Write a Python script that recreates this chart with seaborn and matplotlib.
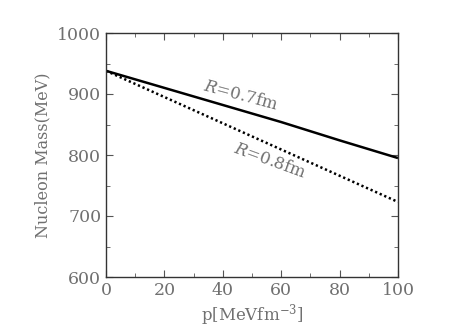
import numpy as np
import pandas as pd
import matplotlib
matplotlib.use("Agg")
import matplotlib.pyplot as plt
import seaborn as sns

# Data
pressure = [0, 20, 40, 60, 80, 100]
mass_r07 = [938, 910, 882, 854, 824, 795]
mass_r08 = [938, 895, 852, 809, 766, 723]

df = pd.DataFrame({
    "p": pressure * 2,
    "mass": mass_r07 + mass_r08,
    "R": ["R=0.7fm"] * len(pressure) + ["R=0.8fm"] * len(pressure),
})

sns.set_style("ticks")
plt.rcParams["font.family"] = ["DejaVu Serif"]
plt.rcParams["mathtext.fontset"] = "dejavuserif"
grey = "#707070"

fig = plt.figure(figsize=(4.53, 3.28), dpi=100)
ax = fig.add_axes([106 / 453, 1 - 277 / 328, 292 / 453, 244 / 328])

sns.lineplot(data=df, x="p", y="mass", hue="R", style="R",
             palette=["black", "black"], dashes=[(1, 0), (0.9, 1.1)],
             linewidth=1.8, legend=False, ax=ax)

ax.set_xlim(0, 100)
ax.set_ylim(600, 1000)
ax.set_xticks([0, 20, 40, 60, 80, 100])
ax.set_yticks([600, 700, 800, 900, 1000])
ax.set_xticks(np.arange(10, 100, 20), minor=True)
ax.set_yticks(np.arange(650, 1000, 100), minor=True)
ax.tick_params(which="both", direction="in", top=True, right=True,
               colors="#555555", labelcolor=grey, labelsize=12.5)
ax.tick_params(which="major", length=5)
ax.tick_params(which="minor", length=3)
for s in ax.spines.values():
    s.set_color("#333333")
    s.set_linewidth(1.0)

ax.set_xlabel(r"p[MeVfm$^{-3}$]", color=grey, fontsize=12, labelpad=2)
ax.set_ylabel("Nucleon Mass(MeV)", color=grey, fontsize=11.5, labelpad=4)

ax.text(46, 898, r"$R$=0.7fm", rotation=-15, color=grey, fontsize=12,
        ha="center", va="center")
ax.text(56, 790, r"$R$=0.8fm", rotation=-20, color=grey, fontsize=12,
        ha="center", va="center")

fig.savefig("out.png", dpi=100)
